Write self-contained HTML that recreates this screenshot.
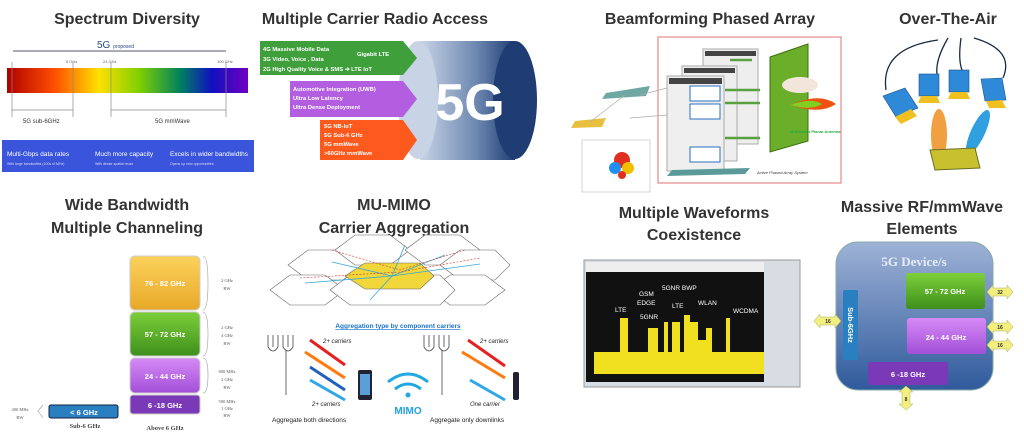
<!DOCTYPE html>
<html><head><meta charset="utf-8"><style>
body{margin:0;background:#fff;width:1024px;height:430px;overflow:hidden;font-family:"Liberation Sans",sans-serif}
</style></head><body>
<svg width="1024" height="430" viewBox="0 0 1024 430" xmlns="http://www.w3.org/2000/svg" font-family="Liberation Sans, sans-serif">
<defs>
<linearGradient id="spec" x1="0" x2="1"><stop offset="0" stop-color="#b00000"/><stop offset=".2" stop-color="#ff5000"/><stop offset=".38" stop-color="#ffe000"/><stop offset=".55" stop-color="#7ed000"/><stop offset=".72" stop-color="#008060"/><stop offset=".85" stop-color="#1010c0"/><stop offset="1" stop-color="#7000c0"/></linearGradient>
<linearGradient id="cyl" x1="0" x2="1"><stop offset="0" stop-color="#c8d4e6"/><stop offset=".6" stop-color="#6c86b0"/><stop offset="1" stop-color="#1f3d73"/></linearGradient>
<linearGradient id="yel" x1="0" y1="0" x2="0" y2="1"><stop offset="0" stop-color="#fbd25c"/><stop offset="1" stop-color="#e8a828"/></linearGradient>
<linearGradient id="grn" x1="0" y1="0" x2="0" y2="1"><stop offset="0" stop-color="#7ccf3a"/><stop offset="1" stop-color="#3e8f1c"/></linearGradient>
<linearGradient id="pur" x1="0" y1="0" x2="0" y2="1"><stop offset="0" stop-color="#d68af5"/><stop offset="1" stop-color="#a24fd8"/></linearGradient>
<linearGradient id="dev" x1="0" y1="0" x2="0" y2="1"><stop offset="0" stop-color="#9eb2d6"/><stop offset="1" stop-color="#2f5a9c"/></linearGradient>
</defs>
<g font-weight="bold" fill="#333" font-size="16" text-anchor="middle">
<text x="127" y="24">Spectrum Diversity</text>
<text x="375" y="24">Multiple Carrier Radio Access</text>
<text x="710" y="24">Beamforming Phased Array</text>
<text x="948" y="24">Over-The-Air</text>
<text x="127" y="210">Wide Bandwidth</text>
<text x="127" y="233">Multiple Channeling</text>
<text x="394" y="210">MU-MIMO</text>
<text x="394" y="233">Carrier Aggregation</text>
<text x="694" y="218">Multiple Waveforms</text>
<text x="694" y="240">Coexistence</text>
<text x="922" y="212">Massive RF/mmWave</text>
<text x="922" y="234">Elements</text>
</g>
<!-- Spectrum -->
<text x="97" y="48" font-size="10" fill="#2a4a80">5G <tspan font-size="5">proposed</tspan></text>
<line x1="13" y1="51" x2="226" y2="51" stroke="#556"/>
<rect x="7" y="68" width="241" height="25" fill="url(#spec)"/>
<g stroke="#888" stroke-width=".7"><line x1="12" y1="62" x2="12" y2="117"/><line x1="73" y1="62" x2="73" y2="117"/><line x1="111" y1="62" x2="111" y2="117"/><line x1="226" y1="62" x2="226" y2="117"/><line x1="12" y1="110" x2="73" y2="110"/><line x1="111" y1="110" x2="226" y2="110"/></g>
<g font-size="4" fill="#666"><text x="66" y="63">6 GHz</text><text x="103" y="63">24 GHz</text><text x="217" y="63">100 GHz</text></g>
<g font-size="6" fill="#333"><text x="23" y="123">5G sub-6GHz</text><text x="155" y="123">5G mmWave</text></g>
<rect x="2" y="140" width="252" height="32" fill="#3a55dc"/>
<g fill="#fff" font-size="6.5"><text x="7" y="156">Multi-Gbps data rates</text><text x="95" y="156">Much more capacity</text><text x="170" y="156">Excels in wider bandwidths</text></g>
<g fill="#dde" font-size="3.5"><text x="7" y="165">With large bandwidths (100s of MHz)</text><text x="95" y="165">With dense spatial reuse</text><text x="170" y="165">Opens up new opportunities</text></g>
<!-- Multiple carrier -->
<rect x="420" y="41" width="95" height="119" fill="url(#cyl)"/>
<ellipse cx="515" cy="100" rx="22" ry="59" fill="#1f3d73"/>
<ellipse cx="418" cy="100" rx="20" ry="59" fill="#c8d4e6"/>
<text x="470" y="120" fill="#fff" font-size="52" font-weight="bold" text-anchor="middle">5G</text>
<polygon points="260,41 403,41 417,58 403,75 260,75" fill="#3f9f3a"/>
<polygon points="290,81 403,81 417,99 403,117 290,117" fill="#b35ee0"/>
<polygon points="320,120 403,120 417,140 403,160 320,160" fill="#ff5a1e"/>
<g fill="#fff" font-size="5.8" font-weight="bold"><text x="263" y="51">4G Massive Mobile Data</text><text x="263" y="61">3G Video, Voice , Data</text><text x="357" y="56">Gigabit LTE</text><text x="263" y="71">2G High Quality Voice &amp; SMS  ➔ LTE IoT</text>
<text x="293" y="91">Automotive Integration (UWB)</text><text x="293" y="100">Ultra Low Latency</text><text x="293" y="109">Ultra Dense Deployment</text>
<text x="324" y="128">5G NB-IoT</text><text x="324" y="137">5G Sub-6 GHz</text><text x="324" y="146">5G mmWave</text><text x="324" y="155">&gt;60GHz mmWave</text></g>
<!-- Beamforming -->
<rect x="658" y="37" width="183" height="146" fill="#fff" stroke="#e07070" stroke-width="1"/>
<rect x="703" y="49" width="55" height="95" fill="#eee" stroke="#aaa"/>
<rect x="682" y="66" width="55" height="95" fill="#eee" stroke="#aaa"/>
<rect x="667" y="76" width="57" height="95" fill="#efefef" stroke="#aaa"/>
<rect x="669" y="78" width="53" height="6" fill="#444"/>
<rect x="684" y="68" width="51" height="5" fill="#444"/><rect x="705" y="51" width="51" height="5" fill="#444"/>
<g fill="#fff" stroke="#2a6fc0"><rect x="690" y="86" width="30" height="15"/><rect x="690" y="104" width="30" height="15"/><rect x="690" y="147" width="30" height="15"/></g>
<polygon points="770,57 808,44 808,141 770,152" fill="#6aae2a" stroke="#3d7010"/>
<ellipse cx="800" cy="85" rx="18" ry="8" fill="#f2e6da"/>
<path d="M790 105 Q820 92 836 104 Q820 115 790 105Z" fill="#f05010"/>
<path d="M790 105 Q812 97 822 104 Q812 111 790 105Z" fill="#7fd020"/>
<g stroke="#5aa040" stroke-width="2.5"><line x1="730" y1="60" x2="752" y2="60"/><line x1="725" y1="90" x2="760" y2="90"/><line x1="725" y1="103" x2="760" y2="103"/><line x1="725" y1="138" x2="760" y2="138"/></g>
<text x="790" y="133" font-size="4" fill="#22aa44" font-weight="bold">M-Element Planar Antenna</text>
<text x="757" y="174" font-size="4" fill="#333" font-style="italic">Active Phased Array System</text>
<polygon points="672,170 750,168 745,174 667,176" fill="#5a9a9a"/>
<polygon points="606,93 650,86 646,96 602,99" fill="#6fa7a5"/>
<polygon points="575,121 606,118 602,127 571,128" fill="#e8c040"/>
<g stroke="#aaa" stroke-width=".7" fill="none"><line x1="640" y1="95" x2="667" y2="88"/><line x1="630" y1="118" x2="667" y2="115"/><line x1="590" y1="122" x2="625" y2="95"/></g>
<rect x="582" y="140" width="68" height="52" fill="#fff" stroke="#bbb" stroke-width=".6"/>
<circle cx="622" cy="160" r="8" fill="#e03020"/><circle cx="628" cy="168" r="6" fill="#f0c000"/><circle cx="615" cy="168" r="6" fill="#2090f0"/><circle cx="622" cy="175" r="4" fill="#e03020"/>
<!-- OTA -->
<g fill="none" stroke="#1a2a40" stroke-width="1.3"><path d="M938 40 Q880 48 886 90"/><path d="M948 38 Q935 60 937 75"/><path d="M961 38 Q958 60 962 70"/><path d="M974 38 Q1015 50 1003 78"/></g>
<g fill="#2e8ad8" stroke="#1c4f80" stroke-width=".6">
<polygon points="883,96 905,88 918,108 896,117"/><rect x="919" y="74" width="20" height="22"/><rect x="949" y="70" width="20" height="22"/><polygon points="981,79 1002,78 1006,100 985,101"/></g>
<g fill="#f0c020"><polygon points="895,117 911,109 917,116 901,124"/><polygon points="921,96 937,96 940,103 918,103"/><polygon points="951,92 967,92 970,99 948,99"/><polygon points="986,101 1002,100 1006,108 989,108"/></g>
<ellipse cx="939" cy="135" rx="8" ry="26" fill="#f0a040"/>
<ellipse cx="978" cy="132" rx="7" ry="24" fill="#30a0e0" transform="rotate(25 978 132)"/>
<polygon points="930,150 975,148 980,168 935,170" fill="#c9c030" stroke="#6a7020"/>
<!-- Wide bandwidth -->
<rect x="130" y="256" width="70" height="54" rx="5" fill="url(#yel)" stroke="#ccc"/>
<rect x="130" y="312" width="70" height="44" rx="5" fill="url(#grn)" stroke="#ccc"/>
<rect x="130" y="358" width="70" height="35" rx="5" fill="url(#pur)" stroke="#ccc"/>
<rect x="130" y="395" width="70" height="19" rx="3" fill="#7a3ab8" stroke="#ccc"/>
<rect x="49" y="405" width="69" height="13" rx="2" fill="#2a7fc0" stroke="#124"/>
<g fill="#fff" font-size="7.5" font-weight="bold" text-anchor="middle"><text x="165" y="286">76 - 82 GHz</text><text x="165" y="337">57 - 72 GHz</text><text x="165" y="379">24 - 44 GHz</text><text x="165" y="408">6 -18 GHz</text><text x="84" y="415">&lt; 6 GHz</text></g>
<g fill="#555" font-size="4.5" font-family="Liberation Serif, serif" text-anchor="middle"><text x="227" y="282">2 GHz</text><text x="227" y="290">BW</text>
<text x="227" y="329">2 GHz</text><text x="227" y="337">4 GHz</text><text x="227" y="345">BW</text>
<text x="227" y="373">800 MHz</text><text x="227" y="381">2 GHz</text><text x="227" y="389">BW</text>
<text x="227" y="403">500 MHz</text><text x="227" y="410">1 GHz</text><text x="227" y="417">BW</text>
<text x="20" y="411">400 MHz</text><text x="20" y="419">BW</text></g>
<g fill="#444" font-size="6.5" font-weight="bold" font-family="Liberation Serif, serif" text-anchor="middle"><text x="85" y="428">Sub-6 GHz</text><text x="165" y="430">Above 6 GHz</text></g>
<g fill="none" stroke="#999" stroke-width=".6"><path d="M203 256 Q208 256 208 283 Q208 310 203 310"/><path d="M203 312 Q208 312 208 334 Q208 356 203 356"/><path d="M203 358 Q208 358 208 375 Q208 393 203 393"/><path d="M43 405 L38 411 L43 418"/></g>
<!-- MU-MIMO -->
<g fill="#fff" stroke="#666" stroke-width=".6">
<polygon points="288,265 308,250 343,250 363,265 343,280 308,280"/><polygon points="335,250 355,235 390,235 410,250 390,265 355,265"/><polygon points="405,250 425,235 460,235 480,250 460,265 425,265"/><polygon points="440,265 460,250 495,250 510,265 495,280 460,280"/><polygon points="270,290 290,275 325,275 345,290 325,305 290,305"/><polygon points="430,290 450,275 485,275 505,290 485,305 450,305"/><polygon points="330,290 350,275 440,275 455,290 440,305 350,305"/></g>
<polygon points="345,276 365,263 420,263 434,276 420,289 365,289" fill="#f2d73a" stroke="#666" stroke-width=".6"/>
<g stroke="#36a8d8" stroke-width=".8"><line x1="392" y1="276" x2="332" y2="262"/><line x1="392" y1="276" x2="445" y2="255"/><line x1="392" y1="276" x2="480" y2="264"/><line x1="392" y1="276" x2="370" y2="300"/><line x1="392" y1="276" x2="305" y2="283"/><line x1="392" y1="276" x2="405" y2="245"/></g>
<g stroke="#d33" stroke-width=".6" stroke-dasharray="2 1.5" fill="none"><path d="M332 250 L400 270 L465 250"/><path d="M300 278 L400 272 L480 258"/></g>
<text x="398" y="328" font-size="6.5" font-weight="bold" fill="#1a72c8" text-anchor="middle" text-decoration="underline">Aggregation type by component carriers</text>
<g stroke="#444" stroke-width=".8" fill="none"><path d="M268 335 v12 q5 8 10 0 v-12 M273 335 v12 M283 335 v12 q5 8 10 0 v-12 M288 335 v12 M286 350 v45"/><path d="M424 335 v12 q5 8 10 0 v-12 M429 335 v12 M439 335 v12 q5 8 10 0 v-12 M444 335 v12 M442 350 v45"/></g>
<g stroke-width="3" fill="none"><line x1="310" y1="340" x2="345" y2="365" stroke="#e52020"/><line x1="305" y1="352" x2="345" y2="378" stroke="#ff7a10"/><line x1="345" y1="390" x2="310" y2="367" stroke="#1f60c0"/><line x1="345" y1="400" x2="310" y2="380" stroke="#30a8e8"/>
<line x1="468" y1="340" x2="505" y2="366" stroke="#e52020"/><line x1="462" y1="352" x2="505" y2="378" stroke="#ff7a10"/><line x1="505" y1="400" x2="470" y2="380" stroke="#30a8e8"/></g>
<rect x="358" y="370" width="14" height="30" rx="2" fill="#223"/><rect x="360" y="374" width="10" height="21" fill="#5aa0d8"/>
<rect x="513" y="372" width="6" height="28" rx="2" fill="#223"/>
<g font-size="6" font-style="italic" fill="#222"><text x="323" y="343">2+ carriers</text><text x="480" y="343">2+ carriers</text><text x="312" y="406">2+ carriers</text><text x="470" y="406">One carrier</text></g>
<g font-size="6.5" fill="#222"><text x="272" y="422">Aggregate both directions</text><text x="430" y="422">Aggregate only downlinks</text></g>
<g fill="none" stroke="#22a8e0" stroke-width="3"><path d="M388 382 Q408 366 428 382"/><path d="M395 389 Q408 379 421 389"/></g>
<circle cx="408" cy="395" r="2.5" fill="#22a8e0"/>
<text x="408" y="414" font-size="10" font-weight="bold" fill="#22a0e0" text-anchor="middle">MIMO</text>
<!-- Waveforms -->
<rect x="584" y="260" width="216" height="127" fill="#d8dde4" stroke="#999"/>
<rect x="586" y="262" width="178" height="10" fill="#eee"/>
<rect x="586" y="272" width="178" height="110" fill="#111"/>
<path d="M594 374 V352 H620 V318 H628 V352 H648 V328 H658 V352 H664 V322 H668 V352 H672 V322 H680 V352 H684 V315 H690 V322 H698 V340 H706 V328 H712 V352 H726 V318 H730 V352 H764 V374 Z" fill="#f0e020"/>
<g fill="#fff" font-size="6.5"><text x="615" y="312">LTE</text><text x="639" y="296">GSM</text><text x="637" y="305">EDGE</text><text x="640" y="319">5GNR</text><text x="662" y="290">5GNR BWP</text><text x="672" y="308">LTE</text><text x="698" y="305">WLAN</text><text x="733" y="313">WCDMA</text></g>
<!-- Massive RF -->
<rect x="836" y="242" width="157" height="148" rx="22" fill="url(#dev)" stroke="#8aa"/>
<text x="914" y="266" font-family="Liberation Serif, serif" font-weight="bold" font-size="13" fill="#e6ecf6" text-anchor="middle">5G Device/s</text>
<rect x="906" y="273" width="79" height="36" rx="3" fill="url(#grn)"/>
<rect x="907" y="318" width="79" height="36" rx="3" fill="url(#pur)"/>
<rect x="868" y="362" width="80" height="23" rx="2" fill="#7a3ab8"/>
<rect x="843" y="290" width="15" height="70" rx="2" fill="#2a7fc0"/>
<g fill="#fff" font-size="7.5" font-weight="bold" text-anchor="middle"><text x="945" y="294">57 - 72 GHz</text><text x="946" y="340">24 - 44 GHz</text><text x="908" y="377">6 -18 GHz</text><text transform="translate(848 325) rotate(90)">Sub-6GHz</text></g>
<g fill="#f2ee80" stroke="#aab060" stroke-width=".5">
<polygon points="987,292 993,285 993,288 1007,288 1007,285 1013,292 1007,299 1007,296 993,296 993,299"/>
<polygon points="987,327 993,320 993,323 1007,323 1007,320 1013,327 1007,334 1007,331 993,331 993,334"/>
<polygon points="987,345 993,338 993,341 1007,341 1007,338 1013,345 1007,352 1007,349 993,349 993,352"/>
<polygon points="814,321 820,314 820,317 835,317 835,314 841,321 835,328 835,325 820,325 820,328"/>
<polygon points="906,386 913,392 910,392 910,404 913,404 906,410 899,404 902,404 902,392 899,392"/></g>
<g font-size="5" font-weight="bold" fill="#333" text-anchor="middle"><text x="1000" y="294">32</text><text x="1000" y="329">16</text><text x="1000" y="347">16</text><text x="828" y="323">16</text><text x="906" y="401">8</text></g>
</svg>
</body></html>
